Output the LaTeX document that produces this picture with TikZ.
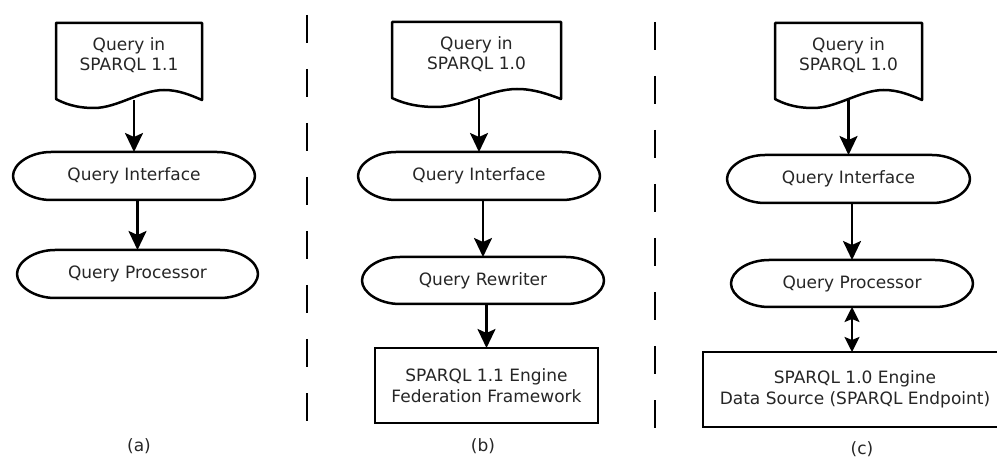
\documentclass[tikz,border=0pt]{standalone}
\usepackage{fontspec}
\setmainfont{DejaVu Sans}
\usetikzlibrary{arrows.meta,calc}
\newcommand\drawdoc[1]{%
 \draw[shp] (#1.north west) -- (#1.north east) -- (#1.south east)
  .. controls ($(#1.south west)!0.92!(#1.south east)+(0,-5)$) and ($(#1.south west)!0.84!(#1.south east)+(0,-10)$) .. ($(#1.south west)!0.74!(#1.south east)+(0,-10)$)
  .. controls ($(#1.south west)!0.58!(#1.south east)+(0,-10)$) and ($(#1.south west)!0.42!(#1.south east)+(0,8)$) .. ($(#1.south west)!0.26!(#1.south east)+(0,8)$)
  .. controls ($(#1.south west)!0.13!(#1.south east)+(0,8)$) and ($(#1.south west)!0.05!(#1.south east)+(0,3)$) .. ($(#1.south west)+(0,-1)$) -- cycle;}
\newcommand\drawterm[1]{%
 \draw[shp] ([xshift=38pt]#1.north west) -- ([xshift=-38pt]#1.north east)
  .. controls ([xshift=-17pt]#1.north east) and ([yshift=12pt]#1.east) .. (#1.east)
  .. controls ([yshift=-12pt]#1.east) and ([xshift=-17pt]#1.south east) .. ([xshift=-38pt]#1.south east)
  -- ([xshift=38pt]#1.south west)
  .. controls ([xshift=17pt]#1.south west) and ([yshift=-12pt]#1.west) .. (#1.west)
  .. controls ([yshift=12pt]#1.west) and ([xshift=17pt]#1.north west) .. ([xshift=38pt]#1.north west) -- cycle;}
\begin{document}
\begin{tikzpicture}[x=1pt,y=-1pt,
  shp/.style={line width=2.5pt, line join=round},
  arr/.style={line width=2.5pt, -{Stealth[length=19pt,width=18pt,inset=4pt]}},
  darr/.style={line width=2.5pt, {Stealth[length=15pt,width=15pt,inset=3pt]}-{Stealth[length=15pt,width=15pt,inset=3pt]}},
  txt/.style={font=\fontsize{17}{20.5}\selectfont, align=center, inner sep=0pt, outer sep=0pt, text=black!85},
  docarea/.style={inner sep=0pt, outer sep=0pt, minimum height=77pt},
  termarea/.style={txt, minimum height=48pt},
  boxnode/.style={txt, draw=black, line width=2.5pt, minimum height=75pt},
  sepline/.style={line width=2.6pt, dash pattern=on 28pt off 26pt},
  captxt/.style={font=\fontsize{17}{20.5}\selectfont, inner sep=0pt, text=black!85}
]
\useasboundingbox (0,0) rectangle (997,457);
\clip (0,0) rectangle (997,457);
\fill[white] (0,0) rectangle (997,457);

% separators
\coordinate (s1a) at (307,15);
\coordinate (s1b) at (307,423);
\coordinate (s2a) at (655,22);
\coordinate (s2b) at (655,428);
\draw[sepline] (s1a) -- (s1b);
\draw[sepline] (s2a) -- (s2b);

% (a)
\node[docarea, minimum width=146pt] (d1) at (129,61.5) {};
\drawdoc{d1}
\node[txt] (d1t) at ([yshift=6.5pt]d1.center) {Query in\\SPARQL 1.1};
\node[termarea, minimum width=242pt] (qi1) at (134,176) {Query Interface};
\drawterm{qi1}
\node[termarea, minimum width=241pt] (qp1) at (137.5,274) {Query Processor};
\drawterm{qp1}
\draw[arr] (qi1.north |- d1.south) -- (qi1.north);
\draw[arr] (qp1.north |- qi1.south) -- (qp1.north);
\node[captxt] (la) at (139,446) {(a)};

% (b)
\node[docarea, minimum width=169pt] (d2) at (476.5,60.5) {};
\drawdoc{d2}
\node[txt] (d2t) at ([yshift=6.5pt]d2.center) {Query in\\SPARQL 1.0};
\node[termarea, minimum width=242pt] (qi2) at (479,176) {Query Interface};
\drawterm{qi2}
\node[termarea, minimum width=242pt, minimum height=47pt] (qr2) at (483,280.5) {Query Rewriter};
\drawterm{qr2}
\node[boxnode, minimum width=223pt] (b2) at (486.5,385.5) {SPARQL 1.1 Engine\\Federation Framework};
\draw[arr] (qi2.north |- d2.south) -- (qi2.north);
\draw[arr] (qr2.north |- qi2.south) -- (qr2.north);
\draw[arr] (b2.north |- qr2.south) -- (b2.north);
\node[captxt] (lb) at (483,446) {(b)};

% (c)
\node[docarea, minimum width=147pt] (d3) at (848.5,61.5) {};
\drawdoc{d3}
\node[txt] (d3t) at ([yshift=6.5pt]d3.center) {Query in\\SPARQL 1.0};
\node[termarea, minimum width=243pt] (qi3) at (848.5,179) {Query Interface};
\drawterm{qi3}
\node[termarea, minimum width=242pt, minimum height=47pt] (qp3) at (852,283.5) {Query Processor};
\drawterm{qp3}
\node[boxnode, minimum width=304pt] (b3) at (855,389.5) {SPARQL 1.0 Engine\\Data Source (SPARQL Endpoint)};
\draw[arr] (qi3.north |- d3.south) -- (qi3.north);
\draw[arr] (qp3.north |- qi3.south) -- (qp3.north);
\draw[darr] (qp3.south) -- (qp3.south |- b3.north);
\node[captxt] (lc) at (862,449) {(c)};
\end{tikzpicture}
\end{document}
